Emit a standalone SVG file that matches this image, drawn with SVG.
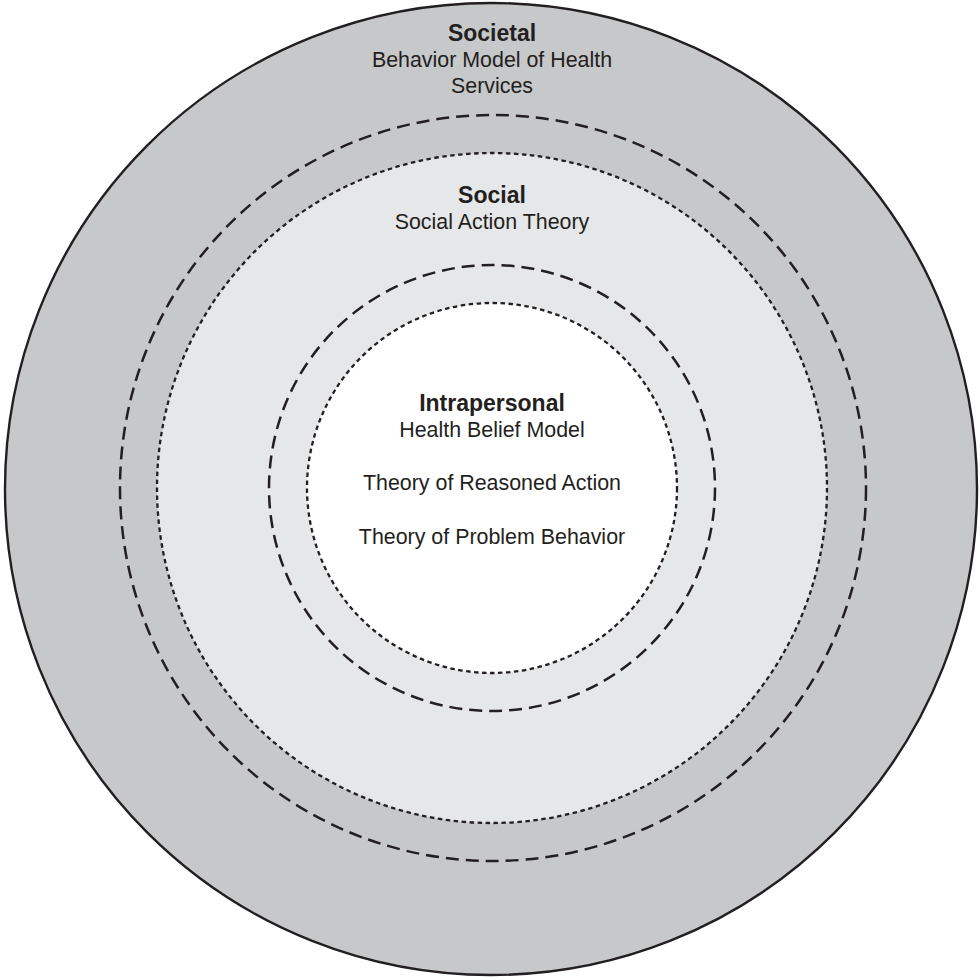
<svg xmlns="http://www.w3.org/2000/svg" width="980" height="980" viewBox="0 0 980 980">
<style>
.t{font-family:"Liberation Sans",Arial,sans-serif;fill:#231f20;text-anchor:middle}
.b{font-weight:bold;font-size:23px}
.r{font-size:21.4px}
.dash{fill:none;stroke:#231f20;stroke-width:2.5;stroke-dasharray:13 7}
.dot{stroke:#231f20;stroke-width:2.3;stroke-dasharray:4.5 3.5}
</style>
<rect width="980" height="980" fill="#ffffff"/>
<g id="societal">
<circle cx="491" cy="489" r="486" fill="#c7c8ca" stroke="#231f20" stroke-width="2.4"/>
<text class="t b" x="492" y="41">Societal</text>
<text class="t r" x="492" y="67">Behavior Model of Health</text>
<text class="t r" x="492" y="93">Services</text>
</g>
<g id="social">
<circle cx="492" cy="488" r="335" fill="#e6e7e8" class="dot"/>
<text class="t b" x="492" y="203">Social</text>
<text class="t r" x="492" y="229">Social Action Theory</text>
</g>
<g id="intrapersonal">
<circle cx="492" cy="488" r="185" fill="#ffffff" class="dot"/>
<text class="t b" x="492" y="411">Intrapersonal</text>
<text class="t r" x="492" y="437">Health Belief Model</text>
<text class="t r" x="492" y="490">Theory of Reasoned Action</text>
<text class="t r" x="492" y="544">Theory of Problem Behavior</text>
</g>
<g id="connectors">
<circle cx="493" cy="488" r="373" class="dash"/>
<circle cx="492" cy="488" r="223" class="dash"/>
</g>
</svg>
